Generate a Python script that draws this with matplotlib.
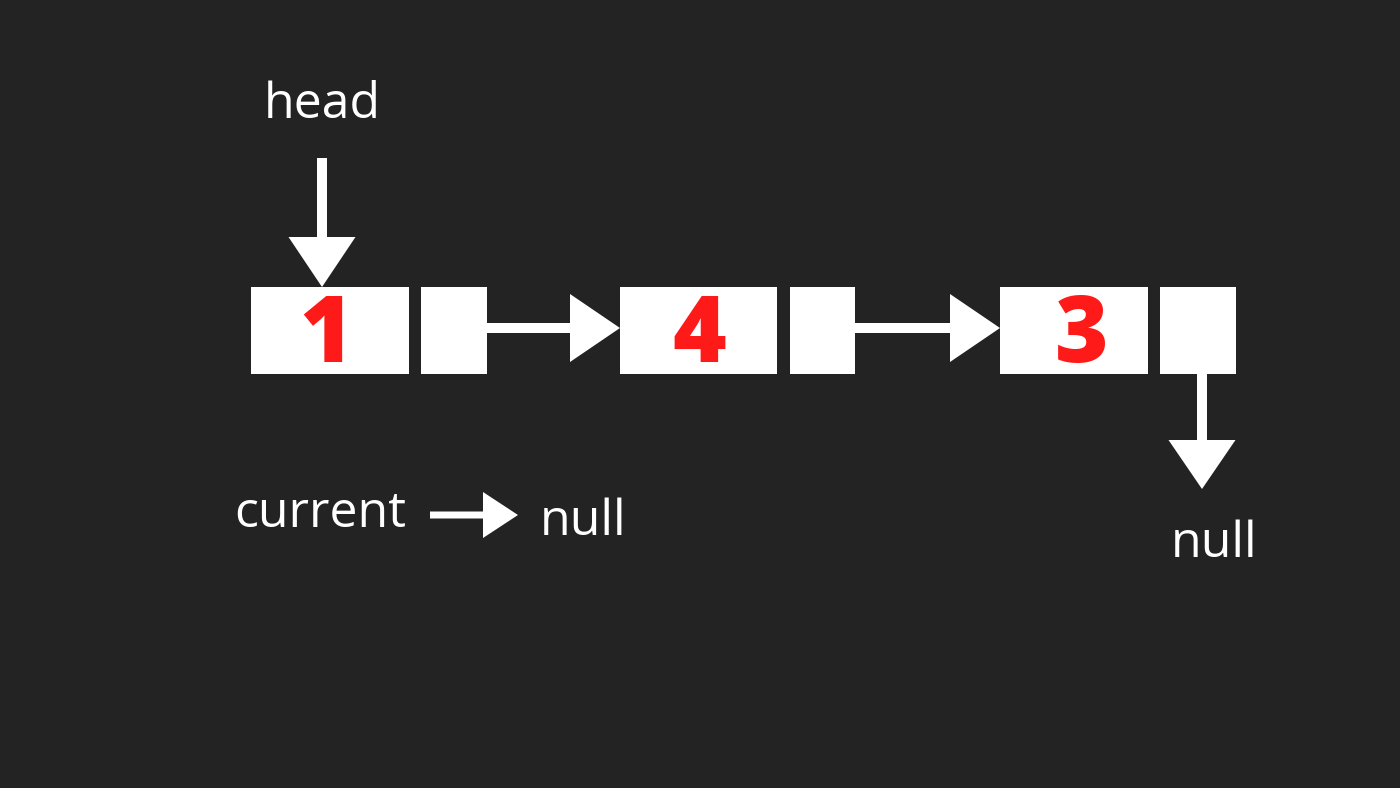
import matplotlib
matplotlib.use("Agg")
import matplotlib.pyplot as plt
from matplotlib.patches import Rectangle, Polygon

# ---- data ----
node_values = ["1", "4", "3"]
head_label = "head"
current_label = "current"
null_label = "null"

# ---- style ----
BG = "#232323"
WHITE = "#ffffff"
RED = "#ff1a1a"
FONT = ["Open Sans", "DejaVu Sans"]

fig = plt.figure(figsize=(14, 7.88), dpi=100)
fig.patch.set_facecolor(BG)
ax = fig.add_axes([0, 0, 1, 1])
ax.set_facecolor(BG)
ax.set_xlim(0, 1400)
ax.set_ylim(788, 0)
ax.axis("off")

# layout (pixel coordinates)
box_y0, box_y1 = 287, 374
data_boxes = [(251, 409), (620, 777), (1000, 1148)]
ptr_boxes = [(421, 487), (790, 855), (1160, 1236)]
digit_x = [326, 699, 1082]


def arrow_right(x0, x1, yc, shaft_w, head_len, head_h):
    xs = x1 - head_len
    pts = [(x0, yc - shaft_w / 2), (xs, yc - shaft_w / 2), (xs, yc - head_h / 2),
           (x1, yc), (xs, yc + head_h / 2), (xs, yc + shaft_w / 2), (x0, yc + shaft_w / 2)]
    ax.add_patch(Polygon(pts, closed=True, facecolor=WHITE, edgecolor="none"))


def arrow_down(xc, y0, y1, shaft_w, head_len, head_w):
    ys = y1 - head_len
    pts = [(xc - shaft_w / 2, y0), (xc - shaft_w / 2, ys), (xc - head_w / 2, ys),
           (xc, y1), (xc + head_w / 2, ys), (xc + shaft_w / 2, ys), (xc + shaft_w / 2, y0)]
    ax.add_patch(Polygon(pts, closed=True, facecolor=WHITE, edgecolor="none"))


for (a, b), (c, d), v, dx in zip(data_boxes, ptr_boxes, node_values, digit_x):
    ax.add_patch(Rectangle((a, box_y0), b - a, box_y1 - box_y0, facecolor=WHITE, edgecolor="none"))
    ax.add_patch(Rectangle((c, box_y0), d - c, box_y1 - box_y0, facecolor=WHITE, edgecolor="none"))
    ax.text(dx, 362, v, color=RED, fontsize=66, fontweight="heavy", family=FONT,
            ha="center", va="baseline")

# arrows between nodes
arrow_right(487, 620, 328, 10, 50, 68)
arrow_right(855, 1000, 328, 10, 50, 68)

# head arrow
arrow_down(322, 158, 287, 10, 50, 67)
ax.text(264, 118, head_label, color=WHITE, fontsize=36, family=FONT, ha="left", va="baseline")

# last pointer -> null
arrow_down(1202, 374, 489, 10, 49, 67)
ax.text(1171, 557, null_label, color=WHITE, fontsize=36, family=FONT, ha="left", va="baseline")

# current -> null
ax.text(234, 527, current_label, color=WHITE, fontsize=36, family=FONT, ha="left", va="baseline")
arrow_right(430, 518, 515, 7, 35, 46)
ax.text(540, 535, null_label, color=WHITE, fontsize=36, family=FONT, ha="left", va="baseline")

fig.savefig("out.png", dpi=100, facecolor=BG)
